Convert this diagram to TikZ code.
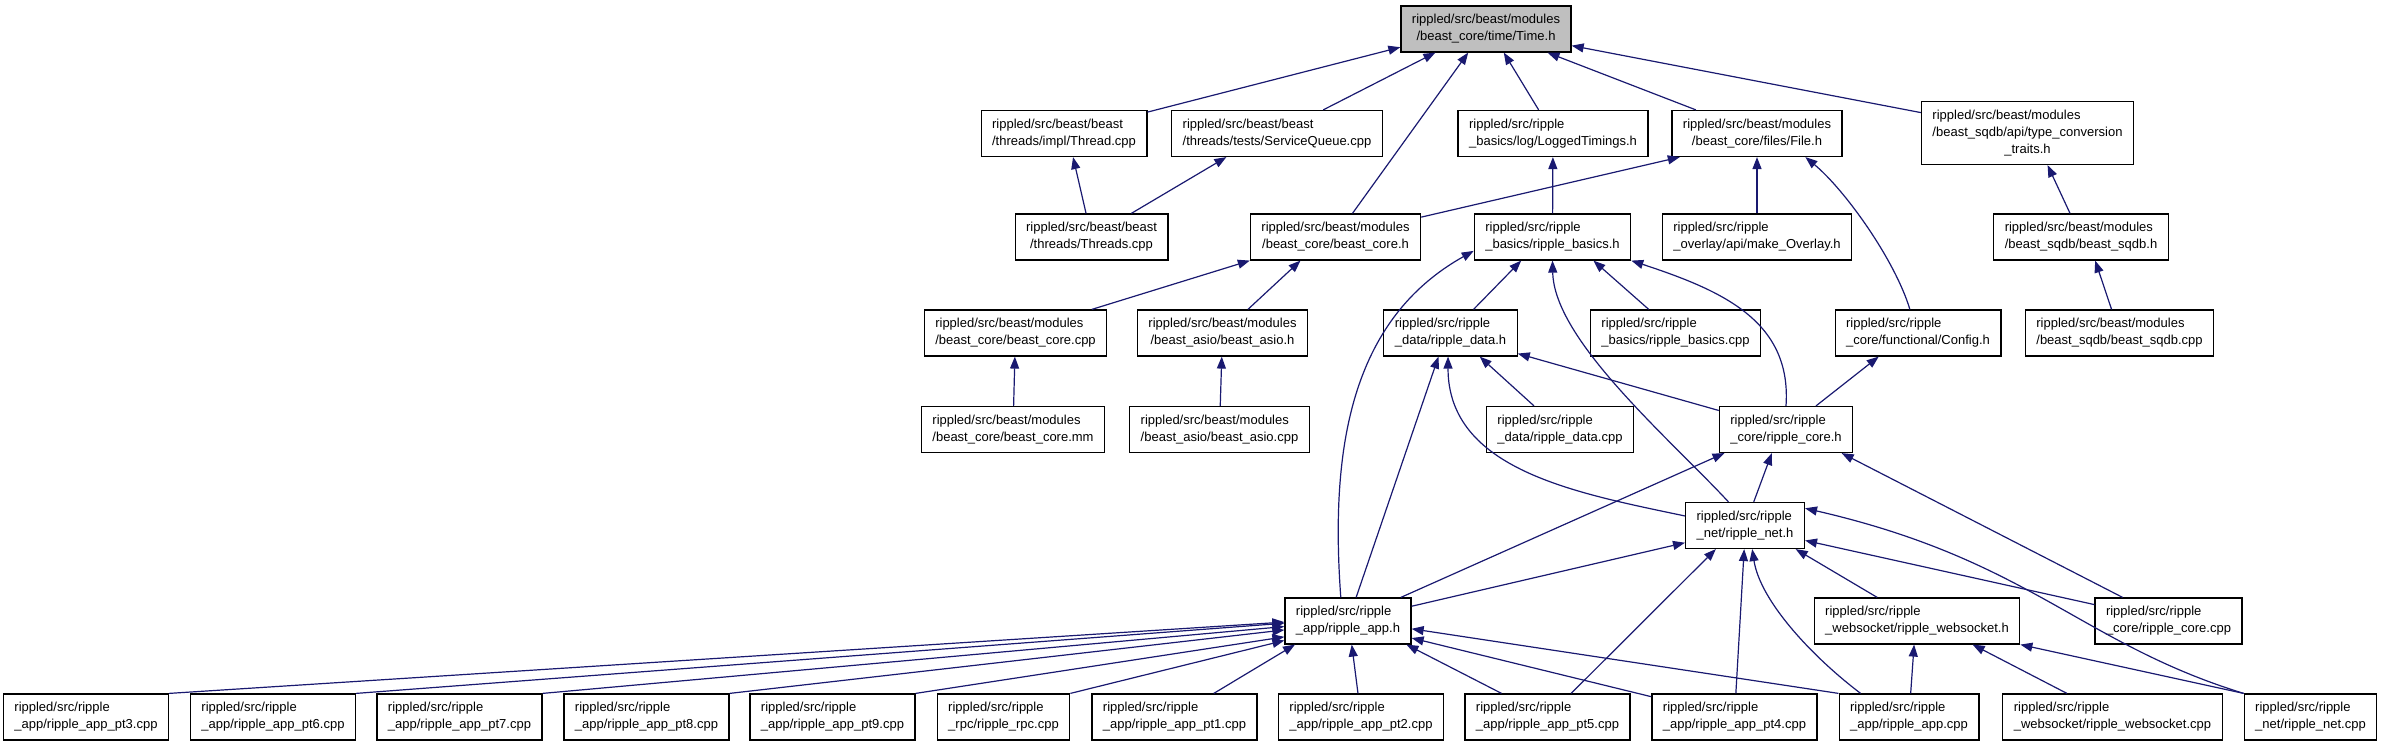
\documentclass[tikz,border=0pt]{standalone}
\usepackage{fontspec}
\setmainfont{Liberation Sans}
\usetikzlibrary{arrows.meta}

\definecolor{edgeblue}{HTML}{191970}
\definecolor{rootgray}{HTML}{BFBFBF}

% first lines flush left, last line centred
\newcommand{\lbl}[2]{\begin{tabular}{@{}l@{}}#1\\\multicolumn{1}{@{}c@{}}{#2}\end{tabular}}

\tikzset{
  file/.style={draw=black, line width=0.6pt, fill=white, inner xsep=5.5pt, inner ysep=3pt,
    font=\fontsize{6.5}{8.5}\selectfont},
  root/.style={file, fill=rootgray},
  dep/.style={draw=edgeblue, line width=0.6pt, -{Triangle[length=6pt,width=4.5pt]}},
}

\begin{document}
\begin{tikzpicture}[x=0.5pt, y=-0.5pt]
  \useasboundingbox (0,0) rectangle (2384,747);

  % Nodes
  \node[root] (time) at (1486,29) {\lbl{rippled/src/beast/modules}{/beast\_core/time/Time.h}};

  \node[file] (thread) at (1064,133.5) {\lbl{rippled/src/beast/beast}{/threads/impl/Thread.cpp}};
  \node[file] (svcq) at (1277,133.5) {\lbl{rippled/src/beast/beast}{/threads/tests/ServiceQueue.cpp}};
  \node[file] (logged) at (1553,133.5) {\lbl{rippled/src/ripple}{\_basics/log/LoggedTimings.h}};
  \node[file] (fileh) at (1757,133.5) {\lbl{rippled/src/beast/modules}{/beast\_core/files/File.h}};
  \node[file] (typeconv) at (2027.5,133) {\lbl{rippled/src/beast/modules\\/beast\_sqdb/api/type\_conversion}{\_traits.h}};

  \node[file] (threads) at (1091.5,237) {\lbl{rippled/src/beast/beast}{/threads/Threads.cpp}};
  \node[file] (beastcoreh) at (1335.5,237) {\lbl{rippled/src/beast/modules}{/beast\_core/beast\_core.h}};
  \node[file] (basicsh) at (1552.5,237) {\lbl{rippled/src/ripple}{\_basics/ripple\_basics.h}};
  \node[file] (overlay) at (1757,237) {\lbl{rippled/src/ripple}{\_overlay/api/make\_Overlay.h}};
  \node[file] (sqdbh) at (2081,237) {\lbl{rippled/src/beast/modules}{/beast\_sqdb/beast\_sqdb.h}};

  \node[file] (beastcorecpp) at (1015.5,333) {\lbl{rippled/src/beast/modules}{/beast\_core/beast\_core.cpp}};
  \node[file] (asioh) at (1222.5,333) {\lbl{rippled/src/beast/modules}{/beast\_asio/beast\_asio.h}};
  \node[file] (datah) at (1450.5,333) {\lbl{rippled/src/ripple}{\_data/ripple\_data.h}};
  \node[file] (basicscpp) at (1675.5,333) {\lbl{rippled/src/ripple}{\_basics/ripple\_basics.cpp}};
  \node[file] (config) at (1918,333) {\lbl{rippled/src/ripple}{\_core/functional/Config.h}};
  \node[file] (sqdbcpp) at (2119.5,333) {\lbl{rippled/src/beast/modules}{/beast\_sqdb/beast\_sqdb.cpp}};

  \node[file] (beastcoremm) at (1013,429.5) {\lbl{rippled/src/beast/modules}{/beast\_core/beast\_core.mm}};
  \node[file] (asiocpp) at (1219.5,429.5) {\lbl{rippled/src/beast/modules}{/beast\_asio/beast\_asio.cpp}};
  \node[file] (datacpp) at (1560,429.5) {\lbl{rippled/src/ripple}{\_data/ripple\_data.cpp}};
  \node[file] (coreh) at (1786,429.5) {\lbl{rippled/src/ripple}{\_core/ripple\_core.h}};

  \node[file] (neth) at (1745,525.5) {\lbl{rippled/src/ripple}{\_net/ripple\_net.h}};

  \node[file] (apph) at (1348,621) {\lbl{rippled/src/ripple}{\_app/ripple\_app.h}};
  \node[file] (websockh) at (1917,621) {\lbl{rippled/src/ripple}{\_websocket/ripple\_websocket.h}};
  \node[file] (corecpp) at (2168.5,621) {\lbl{rippled/src/ripple}{\_core/ripple\_core.cpp}};

  \node[file] (pt3) at (86,717) {\lbl{rippled/src/ripple}{\_app/ripple\_app\_pt3.cpp}};
  \node[file] (pt6) at (273,717) {\lbl{rippled/src/ripple}{\_app/ripple\_app\_pt6.cpp}};
  \node[file] (pt7) at (459.5,717) {\lbl{rippled/src/ripple}{\_app/ripple\_app\_pt7.cpp}};
  \node[file] (pt8) at (646.5,717) {\lbl{rippled/src/ripple}{\_app/ripple\_app\_pt8.cpp}};
  \node[file] (pt9) at (832.5,717) {\lbl{rippled/src/ripple}{\_app/ripple\_app\_pt9.cpp}};
  \node[file] (rpc) at (1003.5,717) {\lbl{rippled/src/ripple}{\_rpc/ripple\_rpc.cpp}};
  \node[file] (pt1) at (1174.5,717) {\lbl{rippled/src/ripple}{\_app/ripple\_app\_pt1.cpp}};
  \node[file] (pt2) at (1361,717) {\lbl{rippled/src/ripple}{\_app/ripple\_app\_pt2.cpp}};
  \node[file] (pt5) at (1547.5,717) {\lbl{rippled/src/ripple}{\_app/ripple\_app\_pt5.cpp}};
  \node[file] (pt4) at (1734.5,717) {\lbl{rippled/src/ripple}{\_app/ripple\_app\_pt4.cpp}};
  \node[file] (appcpp) at (1909,717) {\lbl{rippled/src/ripple}{\_app/ripple\_app.cpp}};
  \node[file] (wscpp) at (2112.5,717) {\lbl{rippled/src/ripple}{\_websocket/ripple\_websocket.cpp}};
  \node[file] (netcpp) at (2310.5,717) {\lbl{rippled/src/ripple}{\_net/ripple\_net.cpp}};

  % Edges
  \draw[dep] (thread) -- (time.192);
  \draw[dep] (svcq) -- (time.205);
  \draw[dep] (beastcoreh) -- (time.233);
  \draw[dep] (logged) -- (time.307);
  \draw[dep] (fileh) -- (time.339);
  \draw[dep] (typeconv) -- (time.349);

  \draw[dep] (threads) -- (thread.291);
  \draw[dep] (threads) -- (svcq.205);
  \draw[dep] (basicsh) -- (logged);
  \draw[dep] (beastcoreh) -- (fileh.197);
  \draw[dep] (overlay) -- (fileh);
  \draw[dep] (config.109) .. controls (1895,260) and (1845,190) .. (fileh.334);
  \draw[dep] (sqdbh) -- (typeconv.302);
  \draw[dep] (sqdbcpp) -- (sqdbh.301);

  \draw[dep] (beastcorecpp) -- (beastcoreh.south west);
  \draw[dep] (asioh) -- (beastcoreh.214);
  \draw[dep] (beastcoremm) -- (beastcorecpp);
  \draw[dep] (asiocpp) -- (asioh);

  \draw[dep] (datah) -- (basicsh.217);
  \draw[dep] (basicscpp) -- (basicsh.330);
  \draw[dep] (neth.125) .. controls (1669,438) and (1554,340) .. (basicsh.south);
  \draw[dep] (coreh.north) .. controls (1792,320) and (1720,290) .. (basicsh.south east);
  \draw[dep] (apph.107) .. controls (1330,450) and (1350,320) .. (basicsh.190);

  \draw[dep] (datacpp) -- (datah.321);
  \draw[dep] (coreh) -- (datah.343);
  \draw[dep] (apph.71) -- (datah.243);
  \draw[dep] (neth.171) .. controls (1576,493) and (1448,470) .. (datah.264);

  \draw[dep] (coreh) -- (config.211);
  \draw[dep] (neth) -- (coreh.239);
  \draw[dep] (apph) -- (coreh.201);
  \draw[dep] (corecpp) -- (coreh.337);

  \draw[dep] (apph) -- (neth.196);
  \draw[dep] (pt5) -- (neth.219);
  \draw[dep] (pt4) -- (neth.268);
  \draw[dep] (appcpp.154) .. controls (1810,655) and (1760,600) .. (neth.287);
  \draw[dep] (websockh) -- (neth.335);
  \draw[dep] (corecpp) -- (neth.346);
  \draw[dep] (netcpp.north west) .. controls (2080,643) and (2030,560) .. (neth.16);

  \draw[dep] (appcpp) -- (websockh.263);
  \draw[dep] (wscpp) -- (websockh.337);
  \draw[dep] (netcpp.north west) -- (websockh.south east);

  \draw[dep] (pt3.north east) -- (apph.181);
  \draw[dep] (pt6.north east) -- (apph.182);
  \draw[dep] (pt7.north east) -- (apph.185);
  \draw[dep] (pt8.north east) -- (apph.188);
  \draw[dep] (pt9.north east) -- (apph.194);
  \draw[dep] (rpc.north east) -- (apph.197);
  \draw[dep] (pt1) -- (apph.204);
  \draw[dep] (pt2) -- (apph.279);
  \draw[dep] (pt5) -- (apph.338);
  \draw[dep] (pt4) -- (apph.345);
  \draw[dep] (appcpp.north west) -- (apph.353);
\end{tikzpicture}
\end{document}
